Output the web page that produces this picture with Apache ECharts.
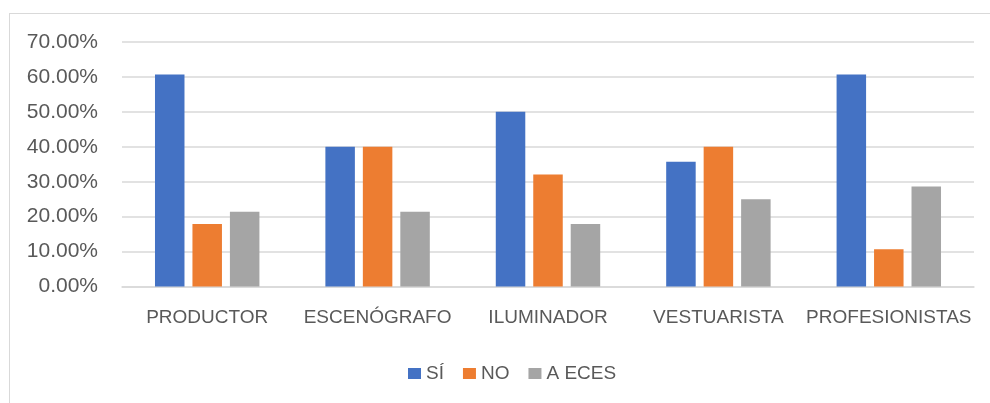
<!DOCTYPE html>
<html>
<head>
<meta charset="utf-8">
<script src="https://cdn.jsdelivr.net/npm/echarts@6/dist/echarts.min.js"></script>
<style>
  html, body { margin: 0; padding: 0; background: #fff; overflow: hidden; }
  #wrap { position: relative; width: 990px; height: 403px; }
  #frame { position: absolute; left: 9px; top: 13px; width: 1000px; height: 500px; border: 1px solid #d9d9d9; }
  #main { position: absolute; left: 0; top: 0; width: 990px; height: 403px; }
</style>
</head>
<body>
<div id="wrap">
  <div id="frame"></div>
  <div id="main"></div>
</div>
<script>
// categorias y valores (porcentajes)
var categories = ['PRODUCTOR', 'ESCENÓGRAFO', 'ILUMINADOR', 'VESTUARISTA', 'PROFESIONISTAS'];
var seriesNames = ['SÍ', 'NO', 'A ECES'];
var siValues = [60.7, 40.0, 50.0, 35.7, 60.7];
var noValues = [17.9, 40.0, 32.1, 40.0, 10.7];
var aecesValues = [21.4, 21.4, 17.9, 25.0, 28.6];

var colors = ['#4472C4', '#ED7D31', '#A5A5A5'];
var font = 'Liberation Sans, Arial, sans-serif';

var chart = echarts.init(document.getElementById('main'));
chart.setOption({
    animation: false,
    color: colors,
    grid: { left: 122, right: 16, top: 42, bottom: 116.5 },
    legend: {
        data: seriesNames,
        left: 403,
        top: 359,
        icon: 'rect',
        itemWidth: 13,
        itemHeight: 11,
        itemGap: 19,
        textStyle: { color: '#595959', fontSize: 19, fontFamily: font }
    },
    xAxis: {
        type: 'category',
        data: categories,
        axisLine: { lineStyle: { color: '#d9d9d9', width: 1.5 } },
        axisTick: { show: false },
        axisLabel: { interval: 0, color: '#595959', fontSize: 19, fontFamily: font, margin: 22 }
    },
    yAxis: {
        type: 'value',
        min: 0,
        max: 70,
        interval: 10,
        axisLine: { show: false },
        axisTick: { show: false },
        splitLine: { lineStyle: { color: '#d9d9d9', width: 1.5 } },
        axisLabel: {
            color: '#595959', fontSize: 21, fontFamily: font, margin: 24,
            formatter: function (v) { return v.toFixed(2) + '%'; }
        }
    },
    series: [
        { name: seriesNames[0], type: 'bar', data: siValues, barWidth: 29.5, barGap: '27%' },
        { name: seriesNames[1], type: 'bar', data: noValues, barWidth: 29.5, barGap: '27%' },
        { name: seriesNames[2], type: 'bar', data: aecesValues, barWidth: 29.5, barGap: '27%' }
    ]
});
</script>
</body>
</html>
